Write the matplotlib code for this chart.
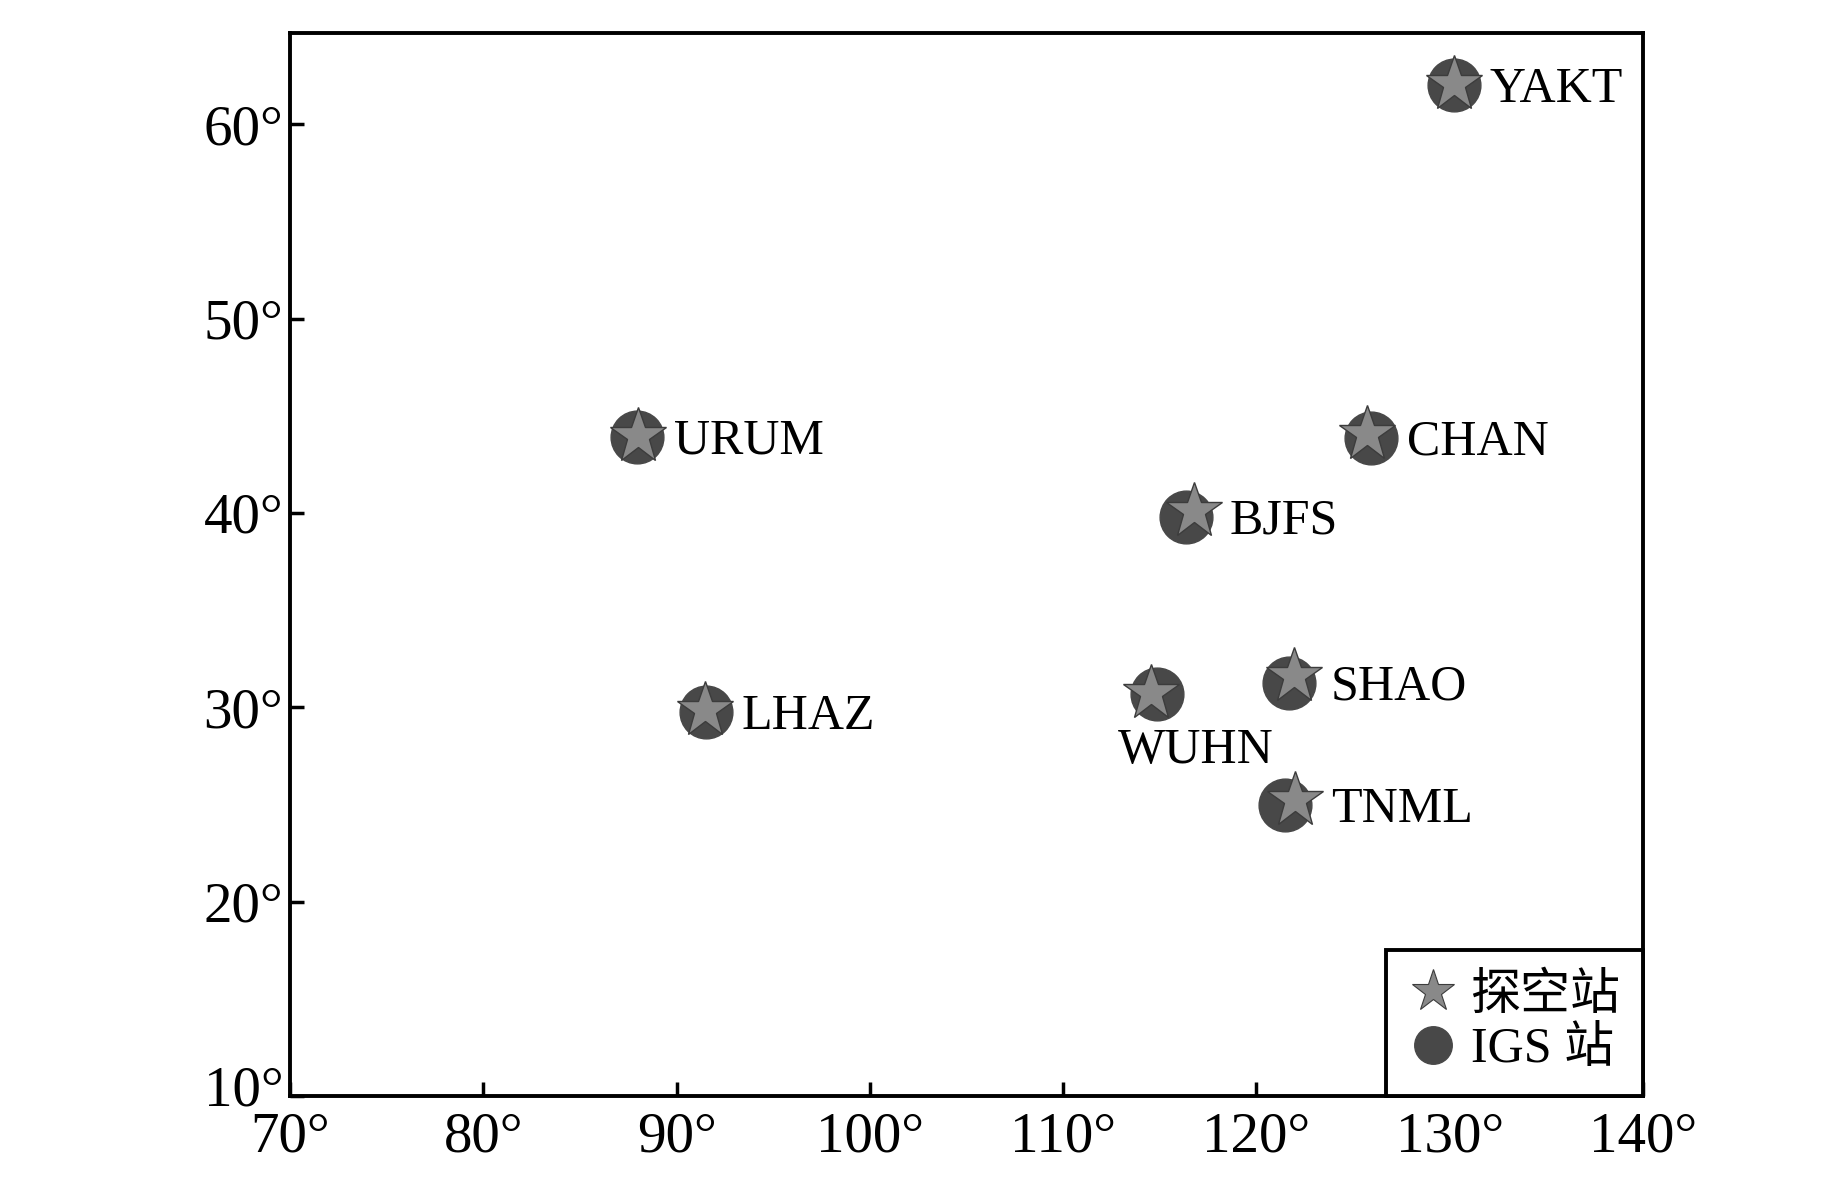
import matplotlib
matplotlib.use("Agg")
import matplotlib.pyplot as plt
from matplotlib.lines import Line2D
from matplotlib.transforms import ScaledTranslation

plt.rcParams['font.family'] = ['Liberation Serif', 'Noto Sans CJK SC', 'DejaVu Sans']

# ---- data ----
stations = ['YAKT', 'URUM', 'CHAN', 'BJFS', 'LHAZ', 'WUHN', 'SHAO', 'TNML']
igs_lon = [130.2, 87.95, 125.9, 116.35, 91.5, 114.85, 121.7, 121.5]
igs_lat = [62.0, 43.9, 43.85, 39.8, 29.75, 30.7, 31.25, 24.95]
sonde_lon = [130.2, 88.0, 125.7, 116.75, 91.45, 114.55, 121.95, 122.0]
sonde_lat = [62.05, 43.95, 44.05, 40.1, 29.85, 30.75, 31.6, 25.25]

x_ticks = [70, 80, 90, 100, 110, 120, 130, 140]
y_ticks = [10, 20, 30, 40, 50, 60]
x_labels = [f"{v}°" for v in x_ticks]
y_labels = [f"{v}°" for v in y_ticks]
legend_labels = ['探空站', 'IGS 站']

circle_color = '#484848'
star_color = '#898989'
star_edge = '#3c3c3c'

fig = plt.figure(figsize=(18.43, 11.81), dpi=100)
ax = fig.add_axes([0.1574, 0.0720, 0.8915 - 0.1574, 0.9721 - 0.0720])

ax.plot(igs_lon, igs_lat, ls='none', marker='o', ms=38, color=circle_color,
        mec=circle_color, zorder=3)
ax.plot(sonde_lon, sonde_lat, ls='none', marker='*', ms=42, color=star_color,
        mec=star_edge, mew=1.0, zorder=4)

for name, ilon, ilat, slon in zip(stations, igs_lon, igs_lat, sonde_lon):
    if name == 'WUHN':
        ax.annotate(name, xy=(ilon, ilat), xytext=(28, -50), textcoords='offset points',
                    ha='center', va='baseline', fontsize=36, zorder=5)
    else:
        ax.annotate(name, xy=(max(ilon, slon), ilat), xytext=(26, -12),
                    textcoords='offset points',
                    ha='left', va='baseline', fontsize=36, zorder=5)

ax.set_xlim(70, 140)
ax.set_ylim(10, 64.7)
ax.set_xticks(x_ticks)
ax.set_xticklabels(x_labels)
ax.set_yticks(y_ticks)
ax.set_yticklabels(y_labels)
ax.tick_params(axis='both', direction='in', length=10, width=2.5, labelsize=41,
               top=False, right=False)
ax.tick_params(axis='x', pad=11)
ax.tick_params(axis='y', pad=5)
for sp in ax.spines.values():
    sp.set_linewidth(2.8)
    sp.set_color('black')

# lift the lowest y label a little, as in the reference
lbl = ax.yaxis.get_major_ticks()[0].label1
lbl.set_transform(lbl.get_transform() + ScaledTranslation(0, 0.1, fig.dpi_scale_trans))

handles = [
    Line2D([], [], ls='none', marker='*', ms=32, color=star_color, mec=star_edge, mew=0.8),
    Line2D([], [], ls='none', marker='o', ms=27, color=circle_color, mec=circle_color),
]
leg = ax.legend(handles, legend_labels, loc='lower right', borderaxespad=0,
                fontsize=36, frameon=True, fancybox=False, framealpha=1,
                edgecolor='black', borderpad=0.45, handlelength=1.0,
                handletextpad=0.25, labelspacing=0.15)
leg.get_frame().set_linewidth(2.8)

fig.savefig('out.png', dpi=100, facecolor='white')
